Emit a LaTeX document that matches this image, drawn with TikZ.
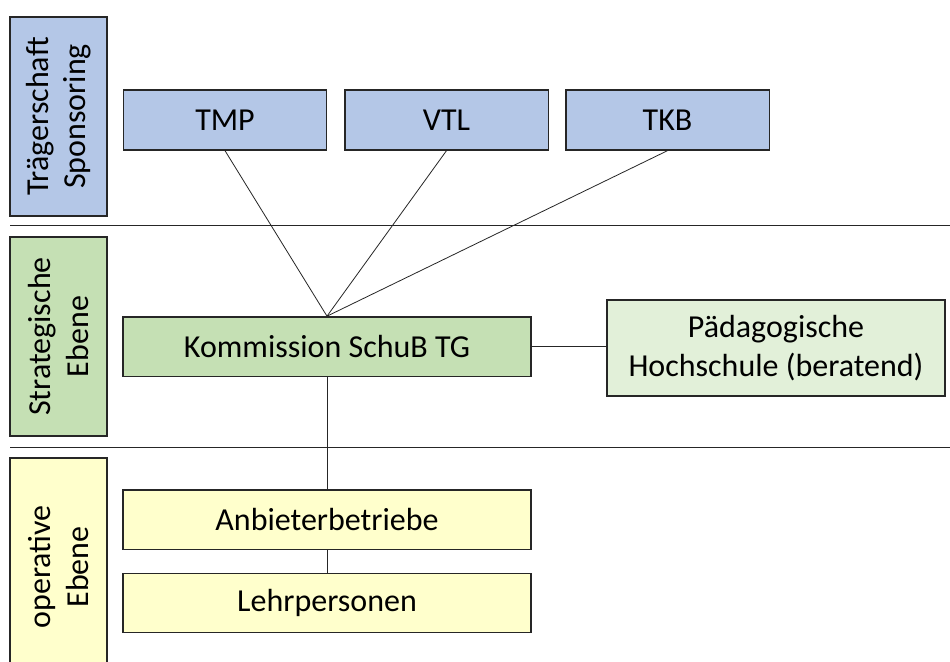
\documentclass[tikz,border=0pt]{standalone}
\usepackage{fontspec}
\setmainfont{Carlito}
\definecolor{cblue}{HTML}{B4C7E7}
\definecolor{cgreen}{HTML}{C5E0B4}
\definecolor{clgreen}{HTML}{E2F0D9}
\definecolor{cyellow}{HTML}{FFFFCC}
\definecolor{cline}{HTML}{262626}
\begin{document}
\begin{tikzpicture}[x=0.75pt,y=-0.75pt,
  box/.style={draw=cline,line width=1pt,rectangle,inner sep=0pt,align=center,
    font=\fontsize{24}{29}\selectfont},
  sidebox/.style={box,rotate=90,minimum width=149.25pt,minimum height=72.75pt,
    font=\fontsize{24}{28}\selectfont},
  topbox/.style={box,fill=cblue,minimum width=152.5pt,minimum height=45pt},
  widebox/.style={box,minimum width=306pt,minimum height=44.5pt},
  conn/.style={draw=cline,line width=0.6pt},
  sep/.style={draw=cline,line width=0.6pt}]
\useasboundingbox (0,0) rectangle (950,661);
\clip (0,0) rectangle (950,661);
\fill[white] (0,0) rectangle (950,661);
% separators
\coordinate (s1a) at (10,225); \coordinate (s1b) at (950,225);
\coordinate (s2a) at (10,447); \coordinate (s2b) at (950,447);
\draw[sep] (s1a) -- (s1b);
\draw[sep] (s2a) -- (s2b);
% side labels
\node[sidebox,fill=cblue] (traeger) at (58.5,116.5) {Trägerschaft\\Sponsoring};
\node[sidebox,fill=cgreen] (strat) at (58.5,336.5) {Strategische\\Ebene};
\node[sidebox,fill=cyellow,minimum width=163.5pt] (oper) at (58.5,567) {operative\\Ebene};
% top boxes
\node[topbox] (tmp) at (225,120) {TMP};
\node[topbox] (vtl) at (446.5,120) {VTL};
\node[topbox] (tkb) at (667.5,120) {TKB};
% strategic
\node[widebox,fill=cgreen] (komm) at (327,346.5) {Kommission SchuB TG};
\node[box,fill=clgreen,minimum width=253.5pt,minimum height=72pt] (ph) at (776,348) {Pädagogische\\Hochschule (beratend)};
% operative
\node[widebox,fill=cyellow] (anb) at (327,519.5) {Anbieterbetriebe};
\node[widebox,fill=cyellow] (lehr) at (327,603) {Lehrpersonen};
% connectors
\draw[conn] (tmp.south) -- (komm.north);
\draw[conn] (vtl.south) -- (komm.north);
\draw[conn] (tkb.south) -- (komm.north);
\draw[conn] (komm.east) -- (komm.east -| ph.west);
\draw[conn] (komm.south) -- (anb.north);
\draw[conn] (anb.south) -- (lehr.north);
\end{tikzpicture}
\end{document}
